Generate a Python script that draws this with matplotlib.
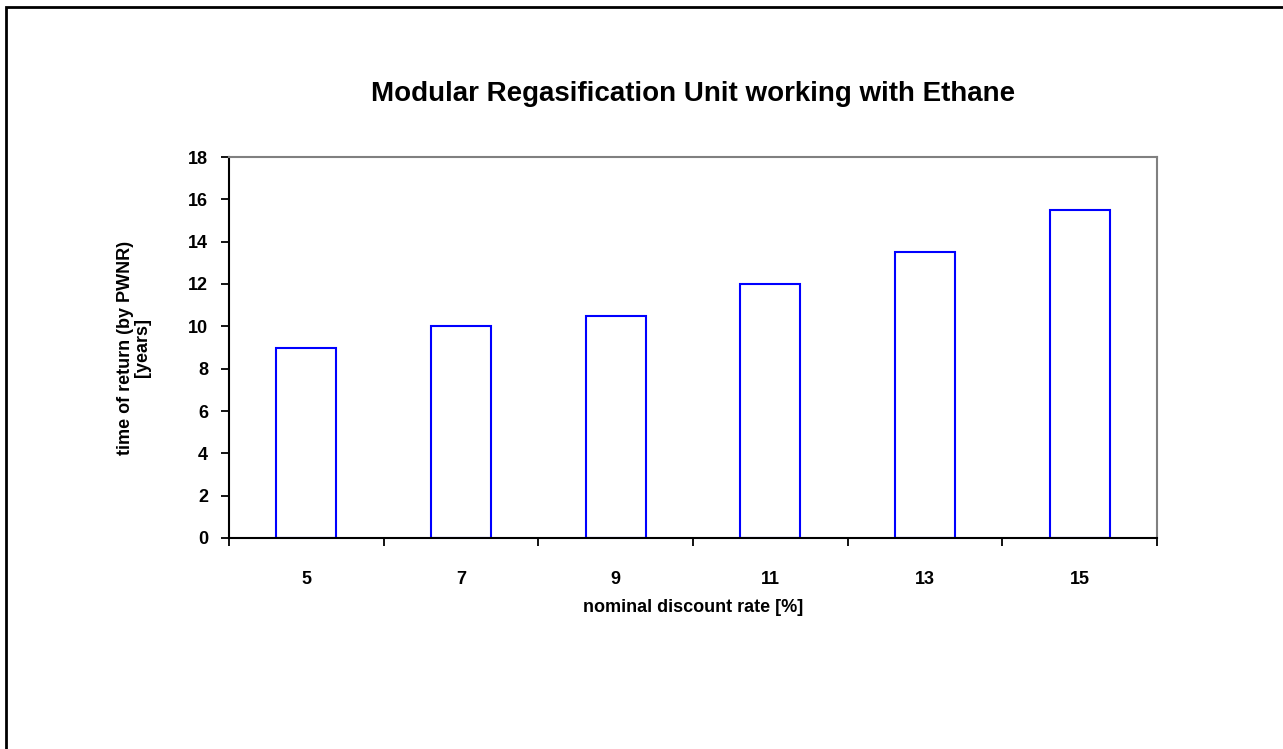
import numpy as np
import matplotlib
matplotlib.use("Agg")
import matplotlib.pyplot as plt
from matplotlib.patches import Rectangle

plt.rcParams['font.family'] = ['Liberation Sans', 'DejaVu Sans']

# data
rates = ["5", "7", "9", "11", "13", "15"]
years = [9.0, 10.0, 10.5, 12.0, 13.5, 15.5]
y_ticks = [0, 2, 4, 6, 8, 10, 12, 14, 16, 18]

W, H = 1283, 749
fig = plt.figure(figsize=(W / 100, H / 100), dpi=100)
ax = fig.add_axes([229 / W, 1 - 538 / H, (1157 - 229) / W, (538 - 157) / H])

x = np.arange(len(rates))
ax.bar(x, years, width=0.39, facecolor="white", edgecolor="blue", linewidth=1.5)

ax.set_xlim(-0.5, len(rates) - 0.5)
ax.set_ylim(0, 18)
ax.set_yticks(y_ticks)
ax.set_yticklabels([str(t) for t in y_ticks], fontsize=13, fontweight="bold")

# category labels centred, ticks on category boundaries
ax.set_xticks(x)
ax.set_xticklabels(rates, fontsize=13, fontweight="bold")
ax.tick_params(axis="x", which="major", length=0, pad=24)
ax.set_xticks(np.arange(-0.5, len(rates)), minor=True)
ax.tick_params(axis="x", which="minor", length=6, width=1.3, direction="out")
ax.tick_params(axis="y", length=6, width=1.3, direction="out", pad=9)

for s in ("left", "bottom"):
    ax.spines[s].set_color("black")
    ax.spines[s].set_linewidth(1.5)
for s in ("top", "right"):
    ax.spines[s].set_color("#808080")
    ax.spines[s].set_linewidth(1.5)

ax.set_title("Modular Regasification Unit working with Ethane",
             fontsize=20, fontweight="bold", pad=40)
ax.set_xlabel("nominal discount rate [%]", fontsize=13, fontweight="bold", labelpad=8)
ax.set_ylabel("time of return (by PWNR)\n[years]", fontsize=13, fontweight="bold",
              labelpad=27, linespacing=1.0)

# outer chart border (runs off the right and bottom edges)
fig.patches.append(Rectangle((6 / W, -0.05), 1.1, 1 - 7 / H + 0.05,
                             transform=fig.transFigure, fill=False,
                             edgecolor="black", linewidth=2))

fig.savefig("out.png", dpi=100)
